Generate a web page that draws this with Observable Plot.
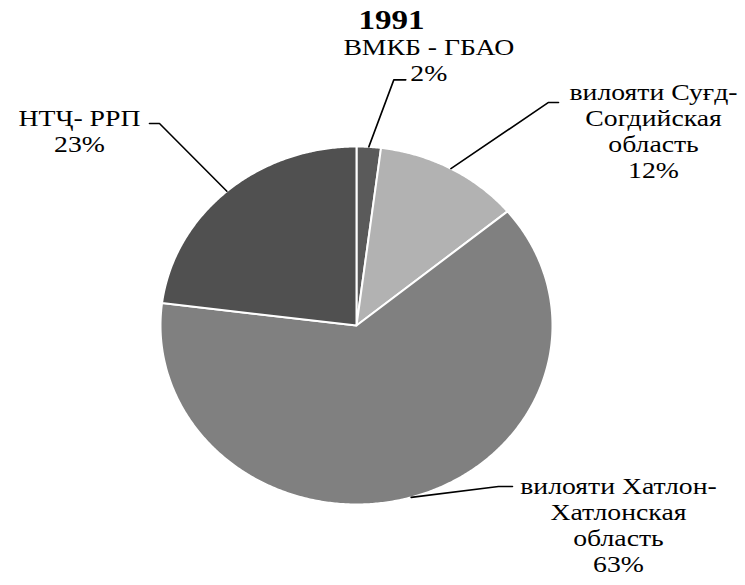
<!DOCTYPE html>
<html><head><meta charset="utf-8">
<script src="https://cdn.jsdelivr.net/npm/d3@7"></script>
<script src="https://cdn.jsdelivr.net/npm/@observablehq/plot@0.6"></script>
<style>body{margin:0;background:#fff} #chart{width:745px;height:585px}</style>
</head><body><div id="chart"></div>
<script>
// ---- data ----
const title = "1991";
const regions = ["ВМКБ - ГБАО", "вилояти Суғд-\nСогдийская\nобласть", "вилояти Хатлон-\nХатлонская\nобласть", "НТҶ- РРП"];
const shares = [2, 12, 63, 23];
const sliceColors = ["#5a5a5a", "#b2b2b2", "#808080", "#505050"];

// ---- layout ----
const W = 745, H = 585;
const cx = 356, cy = 325, rx = 196, ry = 179;
const font = "Liberation Serif";
const fontSize = 23.5, lineH = 1.11, stretch = 1.18;
// pixel offsets from slice mid-edge point: elbow, end of leader, text (last baseline, centre)
const leaderLayout = [
  {elbow: [25, -67], end: [37, -67], text: [60, -66]},
  {elbow: [97.6, -66.2], end: [107.6, -66.2], text: [202.6, 9.8]},
  {elbow: [87.3, -10.9], end: [101.3, -10.9], text: [207.3, 74.8]},
  {elbow: [-67.4, -67.7], end: [-77.4, -67.7], text: [-147.4, -39]}
];

const total = d3.sum(shares);
let acc = 0;
const slices = regions.map((name, i) => {
  const a0 = acc / total * 2 * Math.PI; acc += shares[i];
  const a1 = acc / total * 2 * Math.PI;
  return {name, i, a0, a1, mid: (a0 + a1) / 2, pct: Math.round(shares[i] / total * 100) + "%"};
});
const pts = slices.flatMap(s => {
  const n = Math.max(2, Math.ceil((s.a1 - s.a0) / (Math.PI / 360)));
  const arr = [{name: s.name, x: 0, y: 0, color: sliceColors[s.i]}];
  for (let k = 0; k <= n; k++) {
    const a = s.a0 + (s.a1 - s.a0) * k / n;
    arr.push({name: s.name, x: Math.sin(a), y: Math.cos(a), color: sliceColors[s.i]});
  }
  return arr;
});
const leaders = slices.flatMap(s => {
  const ex = Math.sin(s.mid), ey = Math.cos(s.mid);
  const L = leaderLayout[s.i];
  return [
    {name: s.name, x: ex, y: ey},
    {name: s.name, x: ex + L.elbow[0] / rx, y: ey - L.elbow[1] / ry},
    {name: s.name, x: ex + L.end[0] / rx, y: ey - L.end[1] / ry}
  ];
});

const textStyle = {fontFamily: font, fontSize, lineHeight: lineH, textAnchor: "middle", lineAnchor: "bottom", fill: "#000"};

const svg = Plot.plot({
  width: W, height: H,
  marginLeft: cx - rx, marginRight: W - cx - rx, marginTop: cy - ry, marginBottom: H - cy - ry,
  x: {domain: [-1, 1], axis: null},
  y: {domain: [-1, 1], axis: null},
  style: {background: "#fff", overflow: "visible", fontFamily: font},
  marks: [
    Plot.line(pts, {x: "x", y: "y", z: "name", fill: "color", stroke: "#fff", strokeWidth: 2, strokeLinejoin: "round", curve: "linear-closed"}),
    Plot.line(leaders, {x: "x", y: "y", z: "name", stroke: "#000", strokeWidth: 1.6}),
    ...slices.map(s => Plot.text([s], {
      x: d => Math.sin(d.mid), y: d => Math.cos(d.mid),
      text: d => d.name + "\n" + d.pct,
      dx: leaderLayout[s.i].text[0], dy: leaderLayout[s.i].text[1],
      ...textStyle
    })),
    Plot.text([title], {frameAnchor: "top", text: d => d, dx: 35, dy: -118, fontFamily: font, fontSize: 28, fontWeight: "bold", lineAnchor: "bottom", fill: "#000"})
  ]
});
d3.select(svg).selectAll("text").each(function () {
  const t = this.getAttribute("transform");
  if (t) this.setAttribute("transform", t + ` scale(${stretch},1)`);
});
document.getElementById("chart").appendChild(svg);
</script>
</body></html>
